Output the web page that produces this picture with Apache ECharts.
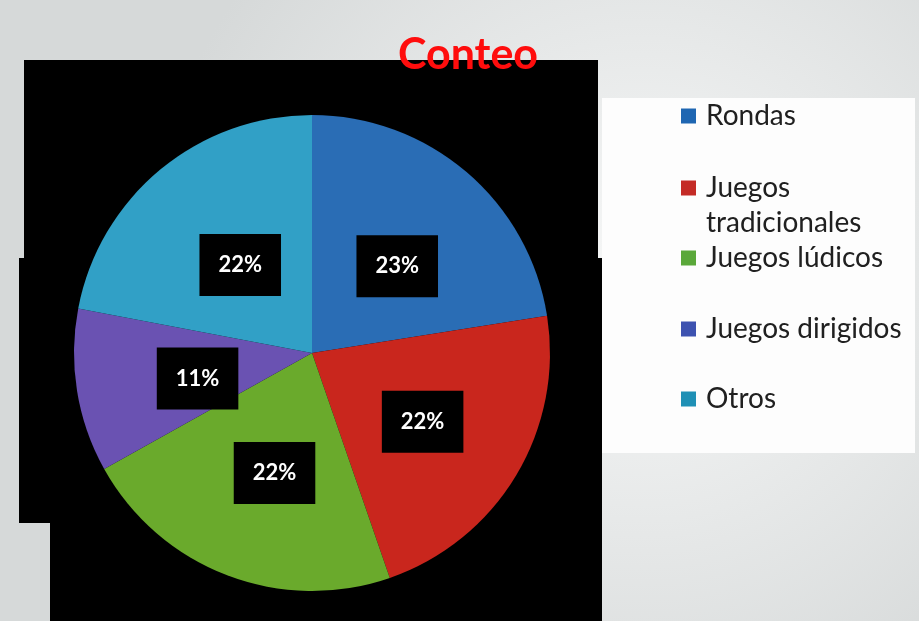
<!DOCTYPE html>
<html>
<head>
<meta charset="utf-8">
<script src="https://cdn.jsdelivr.net/npm/echarts@6/dist/echarts.min.js"></script>
<style>
html,body{margin:0;padding:0;}
#chart{width:919px;height:621px;}
</style>
</head>
<body>
<div id="chart"></div>
<script>
const categories = ['Rondas', 'Juegos tradicionales', 'Juegos lúdicos', 'Juegos dirigidos', 'Otros'];
const values = [22.5, 22.2, 22.2, 11.1, 22.0];
const sliceColors = ['#2a6db5', '#c9261d', '#6aaa2c', '#6a52b2', '#31a0c6'];
const legendColors = ['#1e66b2', '#c42b26', '#5aa83a', '#3d52b0', '#1f90b5'];
const legendCenters = [116, 188, 258, 329, 399];
const titleText = 'Conteo';

const chart = echarts.init(document.getElementById('chart'));

const FONT = 'Lato';
const ICON_ONE = 'path://M0,0L10,0L10,10L0,10Z M13.333,10L13.333,10';
const ICON_TWO = 'path://M0,0L10,0L10,10L0,10Z M13.333,33.333L13.333,33.333';

const legends = categories.map((name, i) => {
  const twoLine = name === 'Juegos tradicionales';
  return {
    data: [{ name, icon: twoLine ? ICON_TWO : ICON_ONE, itemStyle: { color: legendColors[i] } }],
    left: 681,
    top: twoLine ? legendCenters[i] - 17.5 : legendCenters[i] - 15,
    padding: 0,
    itemWidth: 20,
    itemHeight: twoLine ? 50 : 15,
    itemGap: 0,
    selectedMode: false,
    formatter: twoLine ? 'Juegos\ntradicionales' : '{name}',
    textStyle: {
      fontFamily: FONT, fontSize: 28, color: '#202020', lineHeight: twoLine ? 35 : 30
    }
  };
});

chart.setOption({
  backgroundColor: {
    type: 'radial', x: 0.7, y: 0.45, r: 0.8,
    colorStops: [
      { offset: 0, color: '#f7f8f8' },
      { offset: 1, color: '#d6d9d9' }
    ]
  },
  color: sliceColors,
  title: {
    text: titleText,
    left: 463,
    top: 29,
    textAlign: 'center',
    textStyle: { color: '#ff0d0d', fontSize: 43, fontWeight: 'bold', fontFamily: FONT }
  },
  graphic: [
    { type: 'rect', shape: { x: 602, y: 98, width: 313, height: 355 }, style: { fill: '#fdfdfd' }, z: -1 },
    { type: 'rect', shape: { x: 24, y: 60, width: 574, height: 200 }, style: { fill: '#000' }, z: -1 },
    { type: 'rect', shape: { x: 19, y: 258, width: 583, height: 265 }, style: { fill: '#000' }, z: -1 },
    { type: 'rect', shape: { x: 50, y: 522, width: 552, height: 99 }, style: { fill: '#000' }, z: -1 }
  ],
  legend: legends,
  series: [{
    type: 'pie',
    center: [312, 353],
    radius: [0, 238],
    startAngle: 90,
    clockwise: true,
    silent: true,
    label: {
      show: true,
      position: 'inside',
      formatter: (p) => Math.round(p.value) + '%',
      color: '#fff',
      fontFamily: FONT,
      fontWeight: 'bold',
      fontSize: 22,
      backgroundColor: '#000',
      padding: [17, 19, 23, 19],
      offset: [6, 6]
    },
    labelLine: { show: false },
    itemStyle: { borderWidth: 0 },
    emphasis: { disabled: true },
    data: categories.map((name, i) => ({ name, value: values[i] }))
  }]
});
</script>
</body>
</html>
